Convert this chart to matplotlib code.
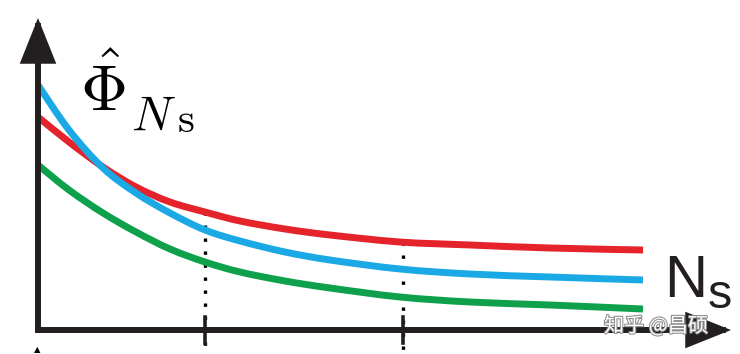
import matplotlib
matplotlib.use("Agg")
import matplotlib.pyplot as plt
import matplotlib.patheffects as pe
from matplotlib.path import Path
from matplotlib.patches import PathPatch
import numpy as np

# ---- data (x: N_s, y: Phi estimate, arbitrary units) ----
ns = [0.00, 0.31, 0.65, 0.98, 1.32, 1.67, 2.02, 2.47, 2.92, 3.62, 4.32, 5.12, 6.05]
red = [2.13, 1.88, 1.63, 1.43, 1.28, 1.18, 1.09, 1.01, 0.95, 0.88, 0.85, 0.82, 0.80]
blue = [2.45, 2.00, 1.62, 1.37, 1.17, 1.00, 0.89, 0.78, 0.70, 0.61, 0.56, 0.53, 0.50]
green = [1.65, 1.40, 1.17, 0.98, 0.81, 0.68, 0.58, 0.49, 0.42, 0.33, 0.28, 0.25, 0.21]
tick_x = [1.67, 3.65]
tick_top = [1.18, 0.88]

W, H = 740, 354
fig = plt.figure(figsize=(W / 100, H / 100), dpi=100)
ax = fig.add_axes([38 / W, 24 / H, 702 / W, 330 / H])
ax.set_xlim(0, 7.02)
ax.set_ylim(0, 3.30)
ax.axis("off")

axis_col = "#231f20"


def smooth_path(xs, ys):
    """Catmull-Rom curve through the given points, as cubic Bezier path."""
    p = np.column_stack([xs, ys]).astype(float)
    n = len(p)
    verts = [p[0]]
    codes = [Path.MOVETO]
    for i in range(n - 1):
        p0 = p[i - 1] if i > 0 else p[i]
        p1, p2 = p[i], p[i + 1]
        p3 = p[i + 2] if i + 2 < n else p[i + 1]
        c1 = p1 + (p2 - p0) / 6.0
        c2 = p2 - (p3 - p1) / 6.0
        verts += [c1, c2, p2]
        codes += [Path.CURVE4] * 3
    return Path(verts, codes)


# curves
for ys, c in [(red, "#e4232b"), (blue, "#1ba9e6"), (green, "#0ea04b")]:
    patch = PathPatch(smooth_path(ns, ys), facecolor="none", edgecolor=c, lw=5.0,
                      capstyle="butt", joinstyle="round", zorder=3)
    ax.add_patch(patch)

# dotted guide lines and ticks
for tx, tt in zip(tick_x, tick_top):
    ax.plot([tx, tx], [tt, -0.24], color="black", lw=2.4, ls=(0, (1, 2.9)),
            clip_on=False, zorder=2)
    ax.plot([tx, tx], [0.13, -0.13], color=axis_col, lw=2.6, clip_on=False, zorder=4)

# axes with arrows
arrow_kw = dict(arrowstyle="-|>,head_length=1.25,head_width=0.5", lw=4.3,
                color=axis_col, mutation_scale=20, shrinkA=0, shrinkB=0,
                joinstyle="miter", capstyle="projecting")
ax.annotate("", xy=(0, 3.12), xytext=(0, 0), xycoords="data",
            arrowprops=arrow_kw, annotation_clip=False, zorder=5)
ax.annotate("", xy=(6.93, 0), xytext=(0, 0), xycoords="data",
            arrowprops=arrow_kw, annotation_clip=False, zorder=5)

# labels
fig.text(80 / W, 1 - 111 / H, r"$\hat{\Phi}$", fontsize=47, ha="left",
         va="baseline", math_fontfamily="cm")
fig.text(131 / W, 1 - 130 / H, r"$N$", fontsize=35, ha="left", va="baseline",
         math_fontfamily="cm")
fig.text(177 / W, 1 - 132 / H, r"$\mathrm{s}$", fontsize=31, ha="left",
         va="baseline", math_fontfamily="cm")

fig.text(664 / W, 1 - 297 / H, "N", fontsize=43, family="Liberation Sans",
         ha="left", va="baseline", color="#231f20")
fig.text(708 / W, 1 - 308 / H, "s", fontsize=35, family="Liberation Sans",
         ha="left", va="baseline", color="#231f20")

# small cut-off mark at bottom left
fig.text(37 / W, 1 - 352 / H, "▲", fontsize=6, ha="center", va="baseline",
         family="DejaVu Sans", color="black")

# watermark
fig.text(604 / W, 1 - 332 / H, "知乎 @昌硕", fontsize=14.5,
         family=["Noto Sans CJK SC", "DejaVu Sans"], color="white", ha="left",
         va="baseline", zorder=10,
         path_effects=[pe.withStroke(linewidth=1.5, foreground="#8a8a8a")])

fig.savefig("out.png", dpi=100)
